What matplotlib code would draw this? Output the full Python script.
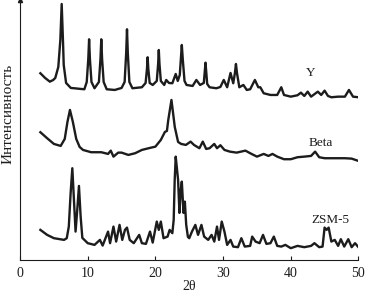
import numpy as np
import matplotlib.pyplot as plt

plt.rcParams['font.family'] = ['Liberation Serif', 'DejaVu Serif']

# XRD patterns (2theta, intensity in arbitrary units)
y_tt = [3.0, 3.7, 4.4, 4.9, 5.2, 5.65, 5.95, 6.15, 6.35, 6.45, 6.8, 7.5, 8.0,
        9.0, 9.5, 9.85, 10.08, 10.2, 10.32, 10.55, 11.0, 11.65, 11.88, 12.0,
        12.12, 12.35, 12.8, 14.0, 15.0, 15.45, 15.68, 15.8, 15.92, 16.15, 16.6,
        18.0, 18.55, 18.75, 18.85, 18.95, 19.15, 19.6, 20.2, 20.4, 20.5, 20.6,
        20.8, 21.3, 21.6, 22.0, 22.5, 23.0, 23.3, 23.6, 23.75, 23.9, 24.05,
        24.3, 24.6, 25.5, 26.05, 26.6, 27.15, 27.3, 27.4, 27.5, 27.65, 28.0,
        29.0, 29.6, 30.1, 30.6, 31.1, 31.5, 31.75, 31.9, 32.05, 32.4, 33.0,
        33.5, 34.0, 34.7, 35.2, 35.5, 36.0, 37.0, 38.0, 38.6, 39.0, 40.0, 41.0,
        41.5, 42.0, 42.5, 43.0, 44.0, 44.5, 45.0, 45.5, 46.0, 47.0, 48.0, 48.6,
        49.2, 50.0]
y_int = [181.7, 177.0, 173.3, 175.0, 177.0, 188.0, 215.0, 251.0, 212.0, 190.0,
         172.0, 167.0, 166.7, 166.0, 165.7, 173.0, 196.0, 215.7, 196.0, 173.0,
         166.7, 173.0, 196.0, 215.7, 196.0, 173.0, 165.7, 165.0, 167.0, 173.0,
         202.0, 225.7, 202.0, 173.0, 166.7, 167.7, 172.0, 186.0, 197.7, 186.0,
         172.0, 170.0, 174.0, 191.0, 205.0, 191.0, 174.0, 170.0, 175.0, 172.0,
         171.7, 181.0, 174.0, 180.0, 195.0, 210.0, 195.0, 174.0, 170.0, 169.0,
         175.0, 170.0, 172.0, 184.0, 192.3, 184.0, 171.0, 167.7, 166.7, 168.0,
         175.0, 167.7, 182.0, 171.7, 182.0, 191.0, 182.0, 167.7, 170.0, 165.0,
         165.7, 175.0, 167.7, 167.7, 161.7, 160.0, 160.0, 167.7, 160.0, 158.3,
         159.7, 162.3, 159.0, 163.3, 158.3, 163.3, 160.0, 164.3, 159.0, 157.7,
         158.3, 158.3, 165.0, 158.3, 157.7]

beta_tt = [3.0, 4.0, 5.0, 6.0, 6.6, 7.0, 7.37, 7.8, 8.3, 8.8, 9.3, 10.5, 12.0,
           13.0, 13.4, 13.8, 14.5, 15.0, 16.0, 17.0, 18.0, 19.0, 20.0, 20.8,
           21.4, 21.7, 21.9, 22.37, 22.86, 23.35, 23.8, 24.5, 25.2, 25.7, 26.5,
           27.0, 27.5, 28.0, 28.7, 29.1, 29.6, 30.2, 31.0, 32.0, 33.3, 34.0,
           35.0, 36.0, 36.7, 37.3, 38.0, 39.0, 40.0, 41.0, 42.0, 43.0, 43.6,
           44.2, 45.0, 46.0, 47.0, 48.0, 49.0, 50.0]
beta_int = [122.7, 116.7, 111.0, 109.0, 116.0, 133.0, 145.0, 133.0, 116.0,
            108.0, 105.0, 102.7, 102.7, 101.0, 104.3, 98.3, 102.3, 102.3,
            100.0, 101.7, 105.0, 106.7, 108.3, 115.0, 123.0, 124.0, 135.0,
            155.0, 128.0, 113.0, 111.0, 110.0, 113.3, 110.0, 106.7, 113.3,
            106.0, 106.7, 111.0, 106.7, 109.7, 105.0, 103.3, 102.3, 104.3,
            101.7, 98.3, 101.0, 99.0, 101.0, 98.3, 95.7, 95.7, 97.7, 98.3,
            99.0, 103.3, 97.7, 96.7, 96.7, 96.7, 96.7, 96.3, 94.0]

zsm_tt = [3.0, 4.0, 5.0, 6.5, 6.9, 7.2, 7.47, 7.72, 7.96, 8.2, 8.45, 8.7, 8.95,
          9.2, 10.0, 11.0, 11.8, 12.2, 13.0, 13.3, 13.8, 14.2, 14.7, 15.1,
          15.5, 15.8, 16.2, 16.8, 17.6, 18.0, 18.6, 19.2, 19.6, 20.2, 20.5,
          20.8, 21.2, 21.8, 22.1, 22.5, 22.7, 22.85, 23.0, 23.2, 23.35, 23.55,
          23.75, 23.9, 24.05, 24.15, 24.35, 24.55, 24.8, 25.0, 25.4, 25.9,
          26.3, 26.8, 27.2, 27.8, 28.3, 28.7, 29.1, 29.4, 29.8, 30.2, 30.6,
          31.1, 31.5, 32.2, 32.7, 33.2, 34.0, 34.3, 34.8, 35.4, 35.9, 36.4,
          37.0, 37.5, 38.0, 38.6, 39.2, 40.0, 41.0, 42.0, 43.0, 43.5, 44.2,
          44.7, 45.0, 45.3, 45.6, 46.0, 46.5, 47.0, 47.4, 47.9, 48.5, 49.0,
          49.5, 50.0]
zsm_int = [25.0, 20.0, 16.7, 15.0, 16.7, 28.3, 61.7, 86.7, 55.0, 23.3, 45.0,
           69.0, 38.3, 17.0, 11.7, 10.0, 15.0, 9.3, 23.3, 11.7, 28.3, 13.3,
           30.0, 15.0, 25.0, 27.3, 15.0, 11.7, 20.0, 11.7, 11.0, 23.3, 12.3,
           33.3, 25.0, 33.3, 16.7, 18.3, 25.0, 21.7, 35.0, 75.0, 98.3, 85.0,
           75.0, 42.0, 65.0, 73.3, 55.0, 42.0, 53.3, 30.0, 18.0, 16.7, 23.3,
           30.0, 20.0, 30.0, 18.3, 15.0, 20.0, 13.3, 28.3, 15.0, 33.3, 23.3,
           10.0, 15.0, 8.3, 7.7, 16.7, 8.3, 9.0, 18.3, 13.3, 11.7, 20.0, 11.0,
           11.7, 18.3, 9.0, 8.3, 10.0, 6.7, 9.0, 7.7, 9.0, 11.7, 7.7, 8.3, 27.3,
           25.0, 27.3, 13.3, 15.0, 9.0, 15.7, 8.3, 15.7, 7.7, 11.7, 7.7]

names = ['Y', 'Beta', 'ZSM-5']
label_pos = [(42.9, 182), (44.5, 112), (45.8, 35)]

fig = plt.figure(figsize=(3.65, 2.97), dpi=100)
ax = fig.add_axes([0.055, 0.125, 0.927, 0.875])

col = '#1c1c1c'
for tt, yy in [(y_tt, y_int), (beta_tt, beta_int), (zsm_tt, zsm_int)]:
    ax.plot(tt, yy, color=col, lw=1.7, solid_joinstyle='round')

for name, (px, py) in zip(names, label_pos):
    ax.text(px, py, name, ha='center', va='center', fontsize=9.5, color=col)

ax.set_xlim(0, 50)
ax.set_ylim(-5, 255)
ax.set_xticks([0, 10, 20, 30, 40, 50])
ax.set_yticks([])
ax.tick_params(axis='x', direction='in', length=3, width=0.8, labelsize=10,
               pad=5, colors=col)
ax.spines['top'].set_visible(False)
ax.spines['right'].set_visible(False)
for s in ['left', 'bottom']:
    ax.spines[s].set_linewidth(0.8)
    ax.spines[s].set_color(col)
ax.plot(0, 1, '^', color=col, ms=3, transform=ax.transAxes, clip_on=False)

ax.set_xlabel('2θ', fontsize=10, labelpad=0, color=col)
ax.set_ylabel('Интенсивность', fontsize=11, color=col)
ax.yaxis.set_label_coords(-0.015, 0.56)

fig.savefig('out.png', dpi=100)
plt.close()
